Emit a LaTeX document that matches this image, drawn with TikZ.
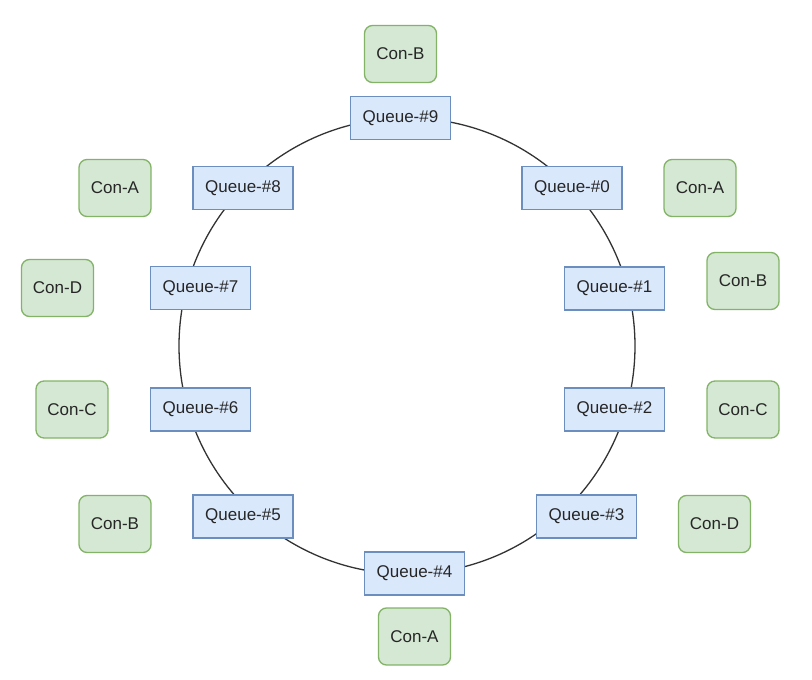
\documentclass[tikz,border=0pt]{standalone}
\usepackage{fontspec}
\setmainfont{Liberation Sans}
\usepackage{tikz}
\usetikzlibrary{positioning}
\definecolor{qfill}{HTML}{DAE8FC}
\definecolor{qdraw}{HTML}{6C8EBF}
\definecolor{cfill}{HTML}{D5E8D4}
\definecolor{cdraw}{HTML}{82B366}
\definecolor{ringcol}{HTML}{333333}
\tikzset{
  box/.style={line width=1.3pt,align=center,inner sep=0pt,text=black!85,
    font=\fontsize{17}{20}\selectfont},
  queue/.style={box,draw=qdraw,fill=qfill,minimum width=100pt,minimum height=43pt},
  con/.style={box,draw=cdraw,fill=cfill,rounded corners=8pt,minimum width=72pt,
    minimum height=57pt},
  ring/.style={draw=ringcol,line width=1.3pt},
}

\begin{document}
\begin{tikzpicture}[x=1pt,y=-1pt]
  \useasboundingbox (0,0) rectangle (812,680);
  \coordinate (ctr) at (407,346);
  \draw[ring] (ctr) circle (228pt);
  % queues round the ring
  \node[queue] (q9) at (400.5,118) {Queue-\#9};
  \node[queue] (q0) at (572,188) {Queue-\#0};
  \node[queue] (q1) at (614.5,288.5) {Queue-\#1};
  \node[queue] (q2) at (614.5,409.5) {Queue-\#2};
  \node[queue] (q3) at (586.5,516.5) {Queue-\#3};
  \node[queue] (q4) at (414.5,573.5) {Queue-\#4};
  \node[queue] (q5) at (243,516.5) {Queue-\#5};
  \node[queue] (q6) at (200.5,409.5) {Queue-\#6};
  \node[queue] (q7) at (200.5,288) {Queue-\#7};
  \node[queue] (q8) at (243,188) {Queue-\#8};
  % consumers
  \node[con] (c9) at (400.5,54) {Con-B};
  \node[con] (c0) at (700,188) {Con-A};
  \node[con] (c1) at (743,281) {Con-B};
  \node[con] (c2) at (743,409.5) {Con-C};
  \node[con] (c3) at (714.5,524) {Con-D};
  \node[con] (c4) at (414.5,636.5) {Con-A};
  \node[con] (c5) at (115,524) {Con-B};
  \node[con] (c6) at (72,409.5) {Con-C};
  \node[con] (c7) at (57.5,288) {Con-D};
  \node[con] (c8) at (115,188) {Con-A};
\end{tikzpicture}
\end{document}
